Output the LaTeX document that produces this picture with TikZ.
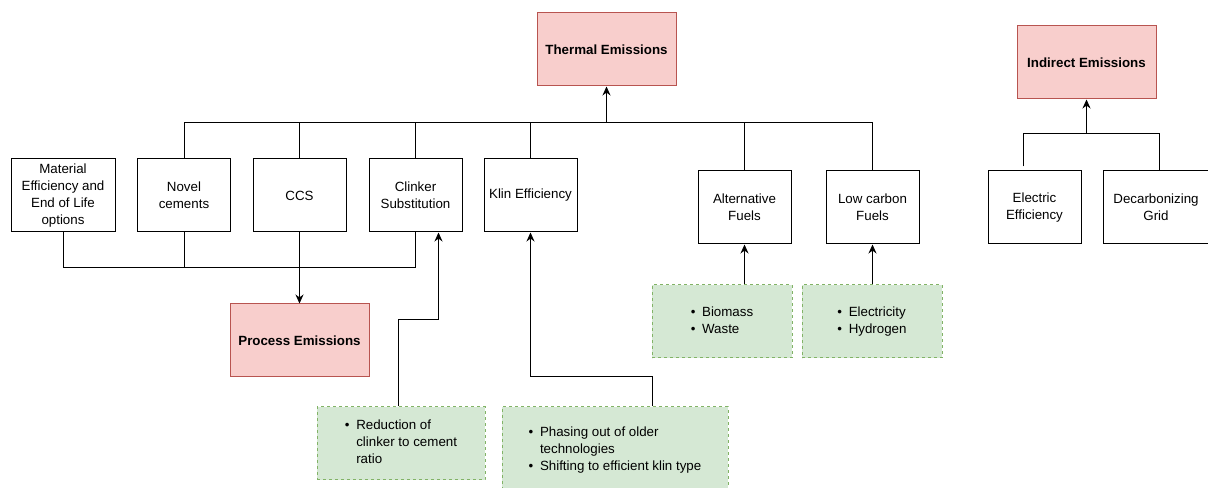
\documentclass[tikz,border=0pt]{standalone}
\usepackage{fontspec}
\setmainfont{Liberation Sans}
\usetikzlibrary{arrows.meta}
\definecolor{emitfill}{HTML}{F8CECC}
\definecolor{emitline}{HTML}{B85450}
\definecolor{measurefill}{HTML}{D5E8D4}
\definecolor{measureline}{HTML}{82B366}
\tikzset{
    lever-box/.style = {draw, fill=white, line width=0.75pt, rectangle, align=center, inner sep=1pt, minimum width=69.75pt, minimum height=54.75pt, font=\fontsize{10}{12.75}\selectfont},
    emission-box/.style = {lever-box, draw=emitline, fill=emitfill, minimum width=104.25pt, font=\fontsize{10}{12.75}\selectfont\bfseries},
    measure-box/.style = {lever-box, draw=measureline, fill=measurefill, dash pattern=on 2.25pt off 2.25pt},
    link/.style = {line width=0.75pt},
    link-arrow/.style = {link, -{Stealth[length=6.75pt,width=6pt]}},
}
\newcommand{\bulletlist}[1]{\begin{tabular}{@{}c@{\hspace{5pt}}l@{}}#1\end{tabular}}

\begin{document}
\begin{tikzpicture}[x=0.75pt, y=-0.75pt]
\useasboundingbox (0,0) rectangle (1208,488);
% emissions
\node [emission-box] (thermal) at (606.5,49.5) {Thermal Emissions};
\node [emission-box] (indirect) at (1086.5,62.5) {Indirect Emissions};
\node [emission-box] (process) at (299.5,340.5) {Process Emissions};
% levers
\node [lever-box, minimum width=78pt] (material) at (63,195.5) {Material\\Efficiency and\\End of Life\\options};
\node [lever-box] (novel) at (184,195.5) {Novel\\cements};
\node [lever-box] (ccs) at (299.5,195.5) {CCS};
\node [lever-box] (clinker) at (415.5,195.5) {Clinker\\Substitution};
\node [lever-box] (klin) at (530.5,195.5) {Klin Efficiency};
\node [lever-box] (altfuel) at (744.5,207.5) {Alternative\\Fuels};
\node [lever-box] (lowcarbon) at (872.5,207.5) {Low carbon\\Fuels};
\node [lever-box] (electric) at (1034.5,207.5) {Electric\\Efficiency};
\node [lever-box, minimum width=79.5pt] (decarb) at (1156,207.5) {Decarbonizing\\Grid};
% measures
\node [measure-box, minimum width=126pt] (reduction) at (401,443.5) {\bulletlist{\textbullet & Reduction of\\ & clinker to cement\\ & ratio}};
\node [measure-box, minimum width=169.5pt, minimum height=64.5pt] (phasing) at (615,450) {\bulletlist{\textbullet & Phasing out of older\\ & technologies\\ \textbullet & Shifting to efficient klin type}};
\node [measure-box, minimum width=105pt] (biomass) at (722,321.5) {\bulletlist{\textbullet & Biomass\\ \textbullet & Waste}};
\node [measure-box, minimum width=105pt] (electricity) at (872,321.5) {\bulletlist{\textbullet & Electricity\\ \textbullet & Hydrogen}};

% thermal tree
\coordinate (thermal-bus) at (606.5,123);
\draw [link-arrow] (thermal-bus) -- (thermal);
\foreach \lever in {novel,ccs,clinker,klin,altfuel,lowcarbon}
    \draw [link] (\lever.north) |- (thermal-bus);

% process tree
\coordinate (process-bus) at (299.5,268);
\foreach \lever in {material,novel,clinker}
    \draw [link] (\lever.south) |- (process-bus);
\draw [link-arrow] (ccs) -- (process);

% measures to levers
\draw [link-arrow] ([xshift=-2pt]reduction.north) -- ++(0,-87) -| ([xshift=17.25pt]clinker.south);
\draw [link-arrow] ([xshift=28pt]phasing.north) -- ++(0,-30) -| (klin.south);
\draw [link-arrow] (biomass.north -| altfuel.south) -- (altfuel.south);
\draw [link-arrow] (electricity.north -| lowcarbon.south) -- (lowcarbon.south);

% indirect tree
\coordinate (indirect-bus) at (1086.5,134);
\draw [link-arrow] (indirect-bus) -- (indirect);
\draw [link] ([xshift=-7.9pt,yshift=3pt]electric.north) |- (indirect-bus);
\draw [link] ([xshift=2.25pt]decarb.north) |- (indirect-bus);
\end{tikzpicture}
\end{document}
